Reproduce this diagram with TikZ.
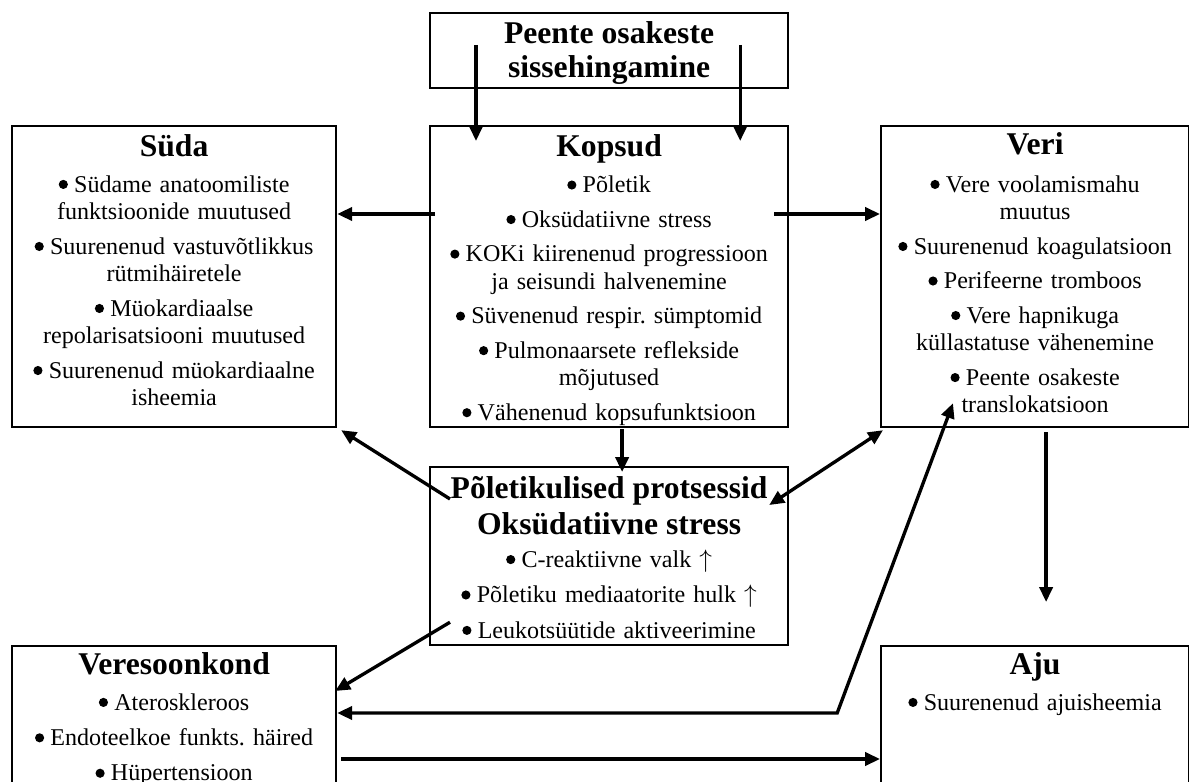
\documentclass[tikz,border=0pt]{standalone}
\usepackage{fontspec}
\setmainfont{Liberation Serif}
\usetikzlibrary{arrows.meta,calc}
\frenchspacing

\newcommand{\pealk}[1]{{\fontsize{18}{20}\bfseries\selectfont #1}}
\newcommand{\tapp}{\tikz[baseline]\fill (0,0.32em) circle (0.19em);\hspace{0.26em}}

\begin{document}
\begin{tikzpicture}[x=0.2mm,y=-0.2mm,
    ots/.tip={Triangle[length=8.5pt,width=7.5pt]},
    kast/.style={draw,line width=1.25pt,anchor=north west,inner sep=0pt,align=center,
      font=\fontsize{13.7}{15.65}\selectfont},
    nool/.style={line width=1.9pt,-ots}]
    \useasboundingbox (0,0) rectangle (1189,782);
    \clip (0,0) rectangle (1189,782);

    \node[kast,text width=71.6mm,text height=6mm,text depth=9mm] (top) at (429,12)
      {\pealk{Peente osakeste}\\[3.7pt]\pealk{sissehingamine}};
    \node[kast,text width=64.8mm,text height=6mm,text depth=54.2mm] (suda) at (11,125)
      {\pealk{Süda}\\[4.85pt]
       \tapp Südame anatoomiliste\\ funktsioonide muutused\\[4pt]
       \tapp Suurenenud vastuvõtlikkus\\ rütmihäiretele\\[4pt]
       \tapp Müokardiaalse\\ repolarisatsiooni muutused\\[4pt]
       \tapp Suurenenud müokardiaalne\\ isheemia};
    \node[kast,text width=71.6mm,text height=6mm,text depth=54.2mm] (kopsud) at (429,125)
      {\pealk{Kopsud}\\[5.2pt]
       \tapp Põletik\\[4pt]
       \tapp Oksüdatiivne stress\\[4pt]
       \tapp KOKi kiirenenud progressioon\\ ja seisundi halvenemine\\[4pt]
       \tapp Süvenenud respir. sümptomid\\[4pt]
       \tapp Pulmonaarsete reflekside\\ mõjutused\\[4pt]
       \tapp Vähenenud kopsufunktsioon};
    \node[kast,text width=61.6mm,text height=5.6mm,text depth=54.6mm] (veri) at (880,125)
      {\pealk{Veri}\\[6pt]
       \tapp Vere voolamismahu\\ muutus\\[4pt]
       \tapp Suurenenud koagulatsioon\\[4pt]
       \tapp Perifeerne tromboos\\[4pt]
       \tapp Vere hapnikuga\\ küllastatuse vähenemine\\[4pt]
       \tapp Peente osakeste\\ translokatsioon};
    \node[kast,text width=71.6mm,text height=6.2mm,text depth=29.4mm] (pol) at (429,466)
      {\pealk{Põletikulised protsessid}\\[3.3pt]
       \pealk{Oksüdatiivne stress}\\[3.1pt]
       \tapp C-reaktiivne valk $\uparrow$\\[4.5pt]
       \tapp Põletiku mediaatorite hulk $\uparrow$\\[4.5pt]
       \tapp Leukotsüütide aktiveerimine};
    \node[kast,text width=64.8mm,text height=5.6mm,text depth=40mm] (veres) at (11,645)
      {\pealk{Veresoonkond}\\[4.85pt]
       \tapp Ateroskleroos\\[4.5pt]
       \tapp Endoteelkoe funkts. häired\\[4.5pt]
       \tapp Hüpertensioon};
    \node[kast,text width=61.6mm,text height=5.6mm,text depth=40mm] (aju) at (880,645)
      {\pealk{Aju}\\[4.85pt]
       \tapp Suurenenud ajuisheemia};

    \draw[nool] ($(top.north west)+(47,33)$) -- ($(kopsud.north west)+(47,16)$);
    \draw[nool] ($(top.north east)+(-49,33)$) -- ($(kopsud.north east)+(-49,16)$);
    \draw[nool] ($(kopsud.north west)+(6,89)$) -- ($(suda.north east)+(0,89)$);
    \draw[nool] ($(kopsud.north east)+(-15,89)$) -- ($(veri.north west)+(0,89)$);
    \draw[nool] ($(kopsud.south)+(13,1)$) -- ($(pol.north)+(13,6)$);
    \draw[nool] ($(pol.north west)+(21,33)$) -- ($(suda.south east)+(4,2)$);
    \draw[nool,ots-ots] ($(pol.north east)+(-20,39)$) -- ($(veri.south west)+(3,2)$);
    \draw[nool] ($(pol.south west)+(21,-24)$) -- ($(veres.north east)+(-2,46)$);
    \draw[nool,ots-ots] ($(veres.north east)+(0,68)$) -- ++(500,0) -- ($(veri.south west)+(73,-25)$);
    \draw[nool] ($(veres.north east)+(4,114)$) -- ($(aju.north west)+(0,114)$);
    \draw[nool] ($(veri.south)+(11,4)$) -- ($(aju.north)+(11,-43)$);
\end{tikzpicture}
\end{document}
